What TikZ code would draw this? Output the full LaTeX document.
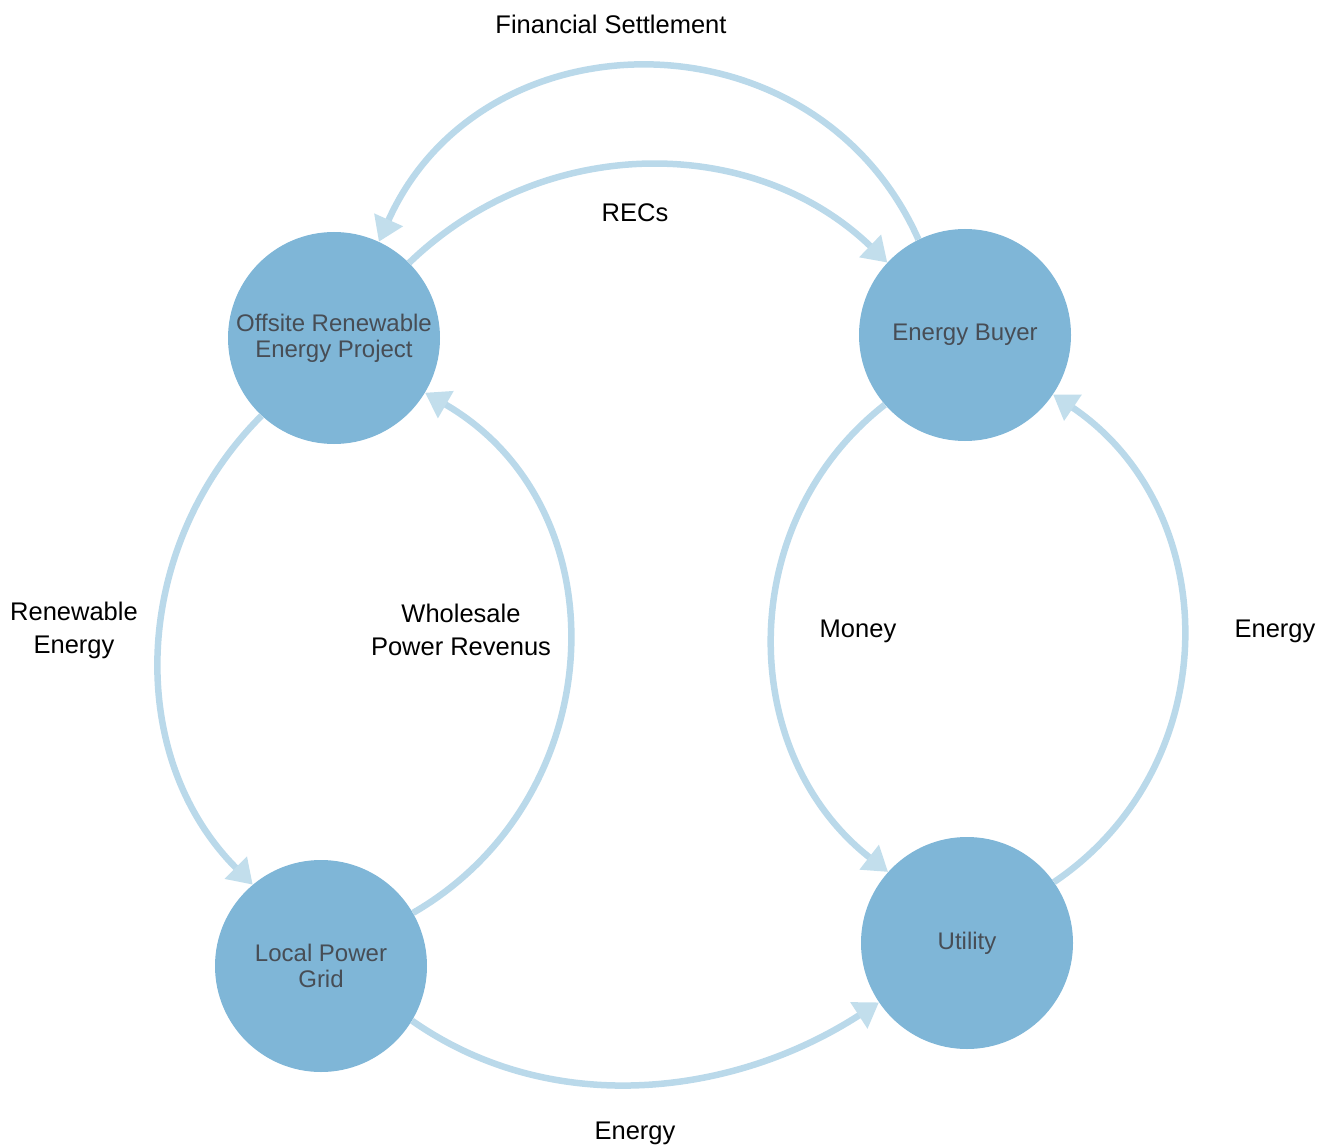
\documentclass[tikz,border=0pt]{standalone}
\usepackage{fontspec}
\setmainfont{Liberation Sans}
\usetikzlibrary{arrows.meta}
\definecolor{nodeblue}{HTML}{7FB6D7}
\definecolor{flowblue}{HTML}{BAD9EA}
\definecolor{tipblue}{HTML}{C2DEEC}
\definecolor{nodetext}{HTML}{474D55}
\begin{document}
\begin{tikzpicture}[x=1pt,y=1pt,
  party/.style={circle,fill=nodeblue,minimum size=212pt,inner sep=0pt,align=center,text=nodetext,font=\fontsize{24}{26}\selectfont},
  flow/.style={draw=flowblue,line width=6.5pt,-{Triangle[length=24pt,width=30pt,color=tipblue]}},
  lbl/.style={align=center,font=\fontsize{25.5}{33}\selectfont}]
  \useasboundingbox (0,0) rectangle (1333,-1147);
  % Parties
  \node[party] (offsite) at (334,-338) {Offsite Renewable\\Energy Project};
  \node[party] (buyer) at (965,-335) {Energy Buyer};
  \node[party] (grid) at (321,-966) {Local Power\\Grid};
  \node[party] (utility) at (967,-943) {Utility};
  % Flows between parties
  \draw[flow] (buyer.116) to[out=114,in=66,looseness=1.2] (offsite.65);
  \draw[flow] (offsite.45) to[out=44,in=136,looseness=1] (buyer.137);
  \draw[flow] (offsite.227) to[out=225,in=135,looseness=1] (grid.130);
  \draw[flow] (grid.30) to[out=30,in=-30,looseness=1.13] (offsite.-31);
  \draw[flow] (buyer.221) to[out=218,in=142,looseness=1.05] (utility.138);
  \draw[flow] (utility.35) to[out=34,in=-34,looseness=1.09] (buyer.-34);
  \draw[flow] (grid.-31) to[out=-35,in=213,looseness=0.94] (utility.214);
  % Labels
  \node[lbl] (settle) at (611,-24) {Financial Settlement};
  \node[lbl] (recs) at (635,-213) {RECs};
  \node[lbl] (renew) at (74,-630) {Renewable\\Energy};
  \node[lbl] (whole) at (461,-630) {Wholesale\\Power Revenus};
  \node[lbl] (money) at (858,-631) {Money};
  \node[lbl] (energyright) at (1275,-631) {Energy};
  \node[lbl] (energybottom) at (635,-1133) {Energy};
\end{tikzpicture}
\end{document}
